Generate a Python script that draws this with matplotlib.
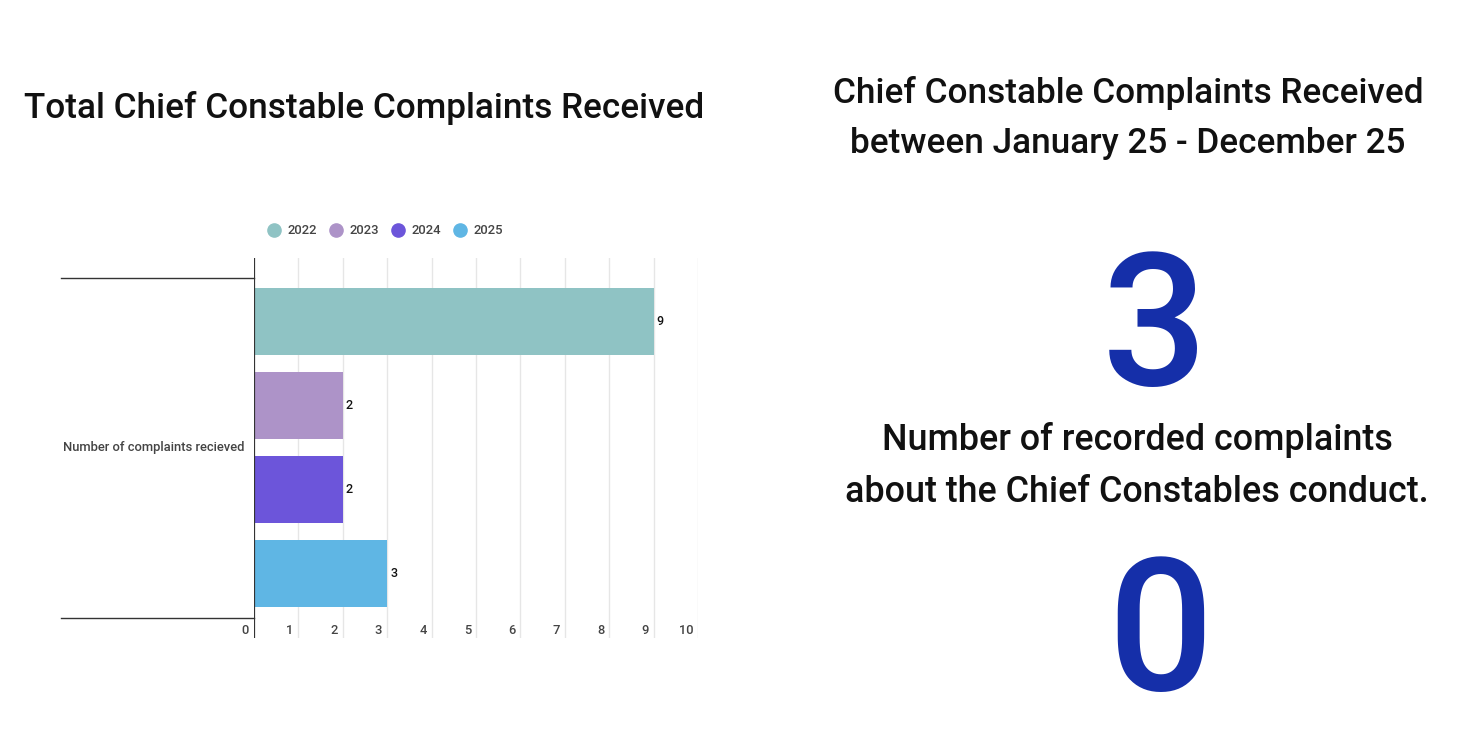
import matplotlib
matplotlib.use("Agg")
import matplotlib.pyplot as plt
import matplotlib.transforms as mtransforms
from matplotlib.lines import Line2D

plt.rcParams['font.family'] = ['Roboto', 'DejaVu Sans']

# ---- data ----
years = ['2022', '2023', '2024', '2025']
complaints = [9, 2, 2, 3]
colors = ['#8fc3c4', '#ad93c8', '#6c55da', '#5fb6e4']
category = 'Number of complaints recieved'
x_ticks = [0, 1, 2, 3, 4, 5, 6, 7, 8, 9, 10]
left_title = 'Total Chief Constable Complaints Received'
right_title = 'Chief Constable Complaints Received\nbetween January 25 - December 25'
big_value_1 = '3'
mid_text = 'Number of recorded complaints\nabout the Chief Constables conduct.'
big_value_2 = '0'

W, H = 1469, 733
fig = plt.figure(figsize=(W / 100, H / 100), dpi=100)
fig.patch.set_facecolor('white')

def fx(px):
    return px / W

def fy(py):
    return 1 - py / H

# axes: left 254, right 698, top 258, bottom 638
ax = fig.add_axes([fx(254), fy(638), fx(698) - fx(254), (638 - 258) / H])
ax.set_xlim(0, 10)
ax.set_ylim(3.768, -0.756)

pos = list(range(len(years)))
ax.barh(pos, complaints, height=0.8, color=colors, zorder=3)

for s in ax.spines.values():
    s.set_visible(False)
ax.set_xticks([])
ax.set_yticks([])

for t in x_ticks[1:]:
    ax.axvline(t, color='#e6e6e6', lw=1, zorder=1)
ax.axvline(0, color='#333333', lw=1.6, zorder=4)

# tick labels
for t in x_ticks:
    tr = mtransforms.offset_copy(ax.transData, fig=fig, x=-5, y=0, units='dots')
    ax.text(t, 3.68, str(t), transform=tr, ha='right', va='center',
            fontsize=9.3, color='#444444', fontweight='medium')

# value labels
for p, v in zip(pos, complaints):
    tr = mtransforms.offset_copy(ax.transData, fig=fig, x=3, y=0, units='dots')
    ax.text(v, p, str(v), transform=tr, ha='left', va='center',
            fontsize=9, color='#111111', zorder=5, fontweight='medium')

# category boundary lines
blend = mtransforms.blended_transform_factory(ax.transAxes, ax.transData)
for yv in [-0.518, 3.53]:
    ax.add_line(Line2D([(61 - 254) / 444, 0], [yv, yv], transform=blend,
                       color='#333333', lw=1, clip_on=False))
ax.text(-10 / 444, 1.5, category, transform=blend, ha='right', va='center',
        fontsize=9.4, color='#444444', fontweight='medium')

# legend
lx = [274, 336, 398, 460]
for x0, yr, c in zip(lx, years, colors):
    fig.add_artist(Line2D([fx(x0)], [fy(230)], transform=fig.transFigure,
                          marker='o', markersize=9.5, color=c, linestyle='none'))
    fig.text(fx(x0 + 13), fy(230), yr, ha='left', va='center',
             fontsize=9.4, color='#444444', fontweight='medium')

# titles
fig.text(fx(364), fy(108), left_title, ha='center', va='center',
         fontsize=25.3, fontweight='medium', color='#111111')
fig.text(fx(1128), fy(118), right_title, ha='center', va='center',
         fontsize=25.3, fontweight='medium', color='#111111', linespacing=1.68)
fig.text(fx(1155), fy(385), big_value_1, ha='center', va='baseline',
         fontsize=134, fontweight='medium', color='#152fa9')
fig.text(fx(1137), fy(466), mid_text, ha='center', va='center',
         fontsize=25.8, fontweight='medium', color='#111111', linespacing=1.66)
fig.text(fx(1160), fy(690), big_value_2, ha='center', va='baseline',
         fontsize=134, fontweight='medium', color='#152fa9')

fig.savefig('out.png', dpi=100, facecolor='white')
